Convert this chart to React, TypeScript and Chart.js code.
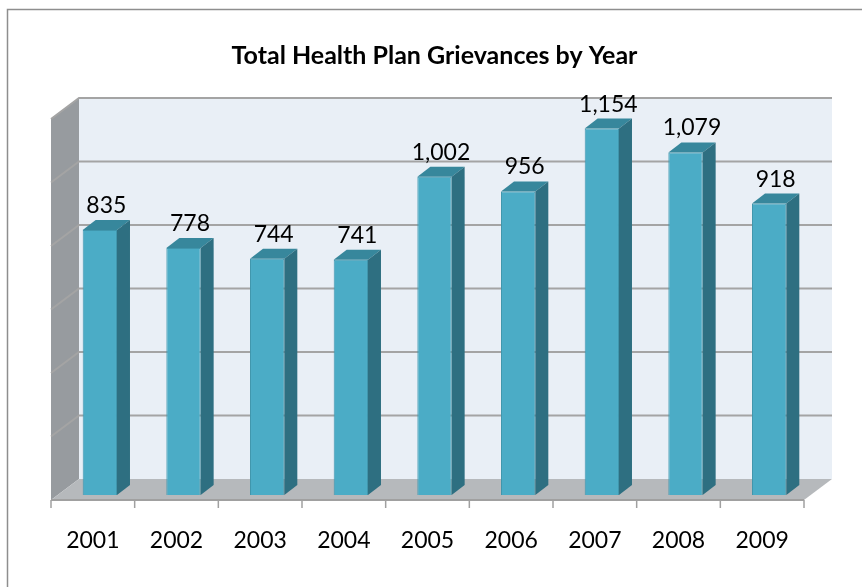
import React, { useEffect, useRef } from "react";
import { Chart, registerables } from "chart.js";

Chart.register(...registerables);

const chartTitle = "Total Health Plan Grievances by Year";
const years = ["2001", "2002", "2003", "2004", "2005", "2006", "2007", "2008", "2009"];
const grievances = [835, 778, 744, 741, 1002, 956, 1154, 1079, 918];
const yMin = 0;
const yMax = 1200;
const yStep = 200;

const FONT = 'Lato, "Open Sans", "Liberation Sans", sans-serif';

// oblique projection offsets (pixels) relative to the bars' front plane
const FRONT = { dx: -7, dy: 5 };
const BACK = { dx: 21, dy: -16 };
const BAR_DEPTH = { dx: 13, dy: -10 };

const COLORS = {
  border: "#8E8E8E",
  wall: "#E9EFF6",
  sideWall: "#979B9F",
  floor: "#B6B9BC",
  grid: "#A4A4A4",
  axis: "#A0A0A0",
  barFront: "#4BACC6",
  barEdge: "#3F96AD",
  barTop: "#37879C",
  barSide: "#2E6F81",
};

const poly = (ctx: CanvasRenderingContext2D, pts: number[][], fill: string) => {
  ctx.beginPath();
  ctx.moveTo(pts[0][0], pts[0][1]);
  for (let i = 1; i < pts.length; i++) ctx.lineTo(pts[i][0], pts[i][1]);
  ctx.closePath();
  ctx.fillStyle = fill;
  ctx.fill();
};

const box3d = {
  id: "box3d",
  beforeDraw(chart: any) {
    const ctx = chart.ctx as CanvasRenderingContext2D;
    ctx.save();
    ctx.strokeStyle = COLORS.border;
    ctx.lineWidth = 1.5;
    ctx.strokeRect(7.5, 9.5, 2000, 2000);
    ctx.restore();
  },
  beforeDatasetsDraw(chart: any) {
    const ctx = chart.ctx as CanvasRenderingContext2D;
    const { left, right } = chart.chartArea;
    const y = chart.scales.y;
    const yTop = y.getPixelForValue(yMax);
    const y0 = y.getPixelForValue(yMin);
    ctx.save();
    // back wall
    poly(ctx, [
      [left + BACK.dx, yTop + BACK.dy],
      [right + BACK.dx, yTop + BACK.dy],
      [right + BACK.dx, y0 + BACK.dy],
      [left + BACK.dx, y0 + BACK.dy],
    ], COLORS.wall);
    // side wall
    poly(ctx, [
      [left + FRONT.dx, yTop + FRONT.dy],
      [left + BACK.dx, yTop + BACK.dy],
      [left + BACK.dx, y0 + BACK.dy],
      [left + FRONT.dx, y0 + FRONT.dy],
    ], COLORS.sideWall);
    // floor
    poly(ctx, [
      [left + FRONT.dx, y0 + FRONT.dy],
      [left + BACK.dx, y0 + BACK.dy],
      [right + BACK.dx, y0 + BACK.dy],
      [right + FRONT.dx, y0 + FRONT.dy],
    ], COLORS.floor);
    // gridlines
    ctx.strokeStyle = COLORS.grid;
    ctx.lineWidth = 2;
    for (let v = yMin + yStep; v <= yMax; v += yStep) {
      const py = y.getPixelForValue(v);
      ctx.beginPath();
      ctx.moveTo(left + FRONT.dx, py + FRONT.dy);
      ctx.lineTo(left + BACK.dx, py + BACK.dy);
      ctx.lineTo(right + BACK.dx, py + BACK.dy);
      ctx.stroke();
    }
    // front axis line + tick marks
    ctx.strokeStyle = COLORS.axis;
    ctx.lineWidth = 2;
    ctx.beginPath();
    ctx.moveTo(left + FRONT.dx, y0 + FRONT.dy);
    ctx.lineTo(right + FRONT.dx, y0 + FRONT.dy);
    ctx.stroke();
    ctx.lineWidth = 1.5;
    const n = years.length;
    for (let i = 0; i <= n; i++) {
      const px = left + ((right - left) * i) / n + FRONT.dx;
      ctx.beginPath();
      ctx.moveTo(px, y0 + FRONT.dy);
      ctx.lineTo(px, y0 + FRONT.dy + 8);
      ctx.stroke();
    }
    ctx.restore();
  },
  afterDatasetsDraw(chart: any) {
    const ctx = chart.ctx as CanvasRenderingContext2D;
    const meta = chart.getDatasetMeta(0);
    ctx.save();
    meta.data.forEach((bar: any, i: number) => {
      const { x, y, base, width } = bar.getProps(["x", "y", "base", "width"], true);
      const l = x - width / 2;
      const r = x + width / 2;
      // top face
      poly(ctx, [
        [l, y],
        [r, y],
        [r + BAR_DEPTH.dx, y + BAR_DEPTH.dy],
        [l + BAR_DEPTH.dx, y + BAR_DEPTH.dy],
      ], COLORS.barTop);
      // side face
      poly(ctx, [
        [r, y],
        [r + BAR_DEPTH.dx, y + BAR_DEPTH.dy],
        [r + BAR_DEPTH.dx, base + BAR_DEPTH.dy],
        [r, base],
      ], COLORS.barSide);
      // value label
      ctx.fillStyle = "#000";
      ctx.font = `23px ${FONT}`;
      ctx.textAlign = "center";
      ctx.textBaseline = "alphabetic";
      ctx.fillText(grievances[i].toLocaleString("en-US"), x + BAR_DEPTH.dx / 2, y - 17);
    });
    ctx.restore();
  },
};

export default function App() {
  const ref = useRef<HTMLCanvasElement | null>(null);
  useEffect(() => {
    if (!ref.current) return;
    const chart = new Chart(ref.current, {
      type: "bar",
      data: {
        labels: years,
        datasets: [
          {
            label: "Grievances",
            data: grievances,
            backgroundColor: COLORS.barFront,
            borderColor: COLORS.barEdge,
            borderWidth: 1,
            categoryPercentage: 1,
            barPercentage: 0.41,
          },
        ],
      },
      options: {
        animation: false,
        responsive: true,
        maintainAspectRatio: false,
        layout: { padding: { left: 58, right: 51, top: 0, bottom: 0 } },
        plugins: {
          legend: { display: false },
          tooltip: { enabled: false },
          title: {
            display: true,
            text: chartTitle,
            color: "#000",
            font: { family: FONT, size: 25, weight: "bold", lineHeight: 1.2 },
            padding: { top: 41.3, bottom: 42.7 },
          },
        },
        scales: {
          x: {
            grid: { display: false, drawTicks: false },
            border: { display: false },
            ticks: {
              color: "#000",
              font: { family: FONT, size: 23 },
              labelOffset: -7,
              padding: 32,
              maxRotation: 0,
            },
            afterFit: (scale: any) => {
              scale.height = 92;
            },
          },
          y: {
            display: false,
            min: yMin,
            max: yMax,
            ticks: { stepSize: yStep },
          },
        },
      },
      plugins: [box3d],
    });
    return () => chart.destroy();
  }, []);
  return (
    <div style={{ position: "absolute", left: 0, top: 0, width: 862, height: 587 }}>
      <canvas ref={ref} />
    </div>
  );
}
